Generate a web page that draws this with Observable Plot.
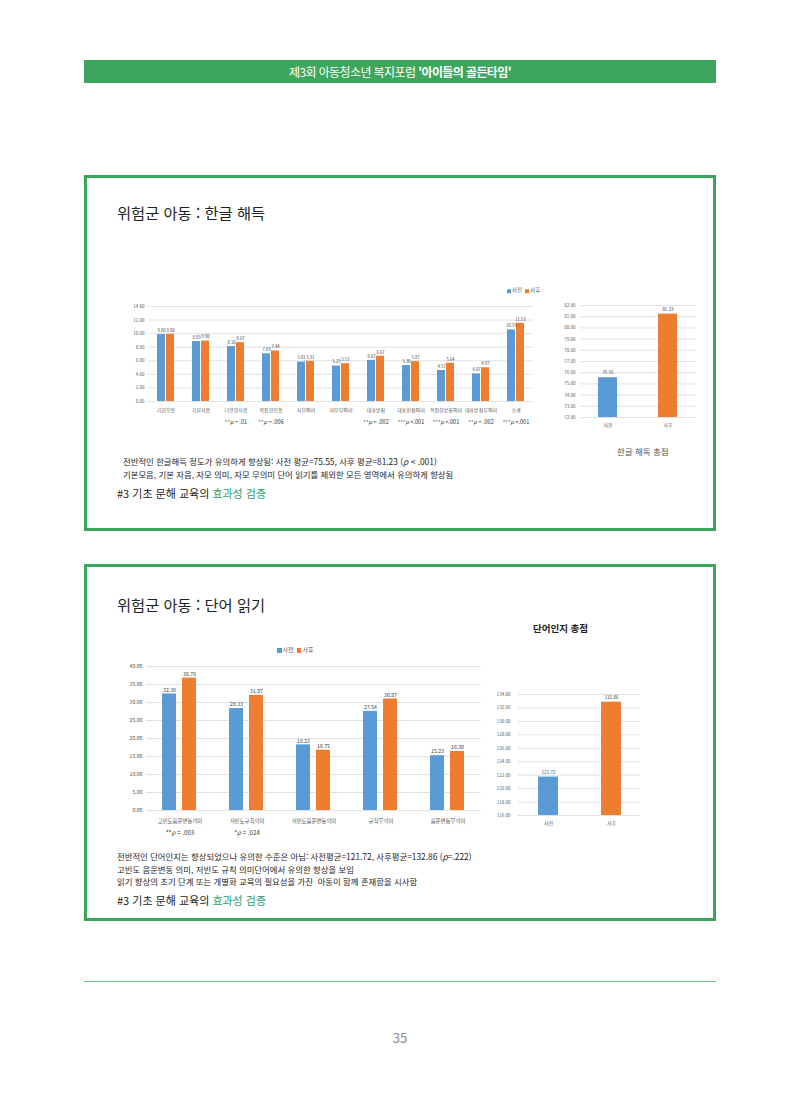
<!DOCTYPE html>
<html lang="ko">
<head>
<meta charset="utf-8">
<script src="https://cdn.jsdelivr.net/npm/d3@7"></script>
<script src="https://cdn.jsdelivr.net/npm/@observablehq/plot@0.6"></script>
<style>
  html, body { margin: 0; padding: 0; background: #fff; }
  body { width: 800px; height: 1095px; position: relative; overflow: hidden;
         font-family: "Noto Sans CJK KR", "Noto Sans", sans-serif; color: #222; }
  .abs { position: absolute; }
  .mid { transform: translateY(-50%); line-height: 1; white-space: nowrap; }
  .header { left: 84px; top: 60px; width: 632px; height: 23px; background: #3da65d; color: #fff;
            font-size: 12px; letter-spacing: -0.6px; text-align: center; line-height: 23px; }
  .box { border: 3px solid #3aa55c; box-sizing: border-box; }
  .title { font-size: 15.3px; color: #222; }
  .body-text { font-size: 8.4px; color: #1e1e1e; }
  .tag { font-size: 11px; color: #222; }
  .tag .g { color: #2e9e68; }
  .legend { font-size: 5.5px; color: #595959; }
  .legend .sw { display: inline-block; width: 4px; height: 4px; margin-right: 1px; vertical-align: middle; }
  .chart { position: absolute; }
</style>
</head>
<body>
<div class="abs header">제3회 아동청소년 복지포럼 <b>'아이들의 골든타임'</b></div>

<div class="abs box" style="left:84px;top:175px;width:632px;height:356px;"></div>
<div class="abs mid title" style="left:117px;top:213px;">위험군 아동 : 한글 해득</div>
<div class="abs mid legend" id="legend1" style="left:507px;top:291px;"></div>
<div class="chart" id="chart1" style="left:112px;top:296px;"></div>
<div class="chart" id="chart2" style="left:548px;top:296px;"></div>
<div class="abs mid" style="left:617px;top:451px;font-size:8.5px;color:#555;">한글 해독 총점</div>
<div class="abs mid body-text" style="left:123px;top:461px;">전반적인 한글해득 정도가 유의하게 향상됨: 사전 평균=75.55, 사후 평균=81.23 (<i>p</i> &lt; .001)</div>
<div class="abs mid body-text" style="left:123px;top:474px;">기본모음, 기본 자음, 자모 의미, 자모 무의미 단어 읽기를 제외한 모든 영역에서 유의하게 향상됨</div>
<div class="abs mid tag" style="left:117px;top:493px;">#3 기초 문해 교육의 <span class="g">효과성 검증</span></div>

<div class="abs box" style="left:84px;top:564px;width:632px;height:357px;"></div>
<div class="abs mid title" style="left:117px;top:605px;">위험군 아동 : 단어 읽기</div>
<div class="abs mid" style="left:533px;top:629px;font-size:9.5px;font-weight:700;color:#222;">단어인지 총점</div>
<div class="abs mid legend" id="legend3" style="left:277px;top:650px;font-size:6px;"></div>
<div class="chart" id="chart3" style="left:112px;top:658px;"></div>
<div class="chart" id="chart4" style="left:490px;top:685px;"></div>
<div class="abs mid body-text" style="left:117px;top:856px;">전반적인 단어인지는 향상되었으나 유의한 수준은 아님: 사전평균=121.72, 사후평균=132.86 (<i>p</i>=.222)</div>
<div class="abs mid body-text" style="left:117px;top:869px;">고빈도 음운변동 의미, 저빈도 규칙 의미단어에서 유의한 향상을 보임</div>
<div class="abs mid body-text" style="left:117px;top:881px;">읽기 향상의 초기 단계 또는 개별화 교육의 필요성을 가진&nbsp; 아동이 함께 존재함을 시사함</div>
<div class="abs mid tag" style="left:117px;top:900px;">#3 기초 문해 교육의 <span class="g">효과성 검증</span></div>

<div class="abs" style="left:84px;top:981px;width:632px;height:1px;background:#6cc48a;"></div>
<div class="abs mid" style="left:0;width:800px;text-align:center;top:1037px;font-size:13px;color:#8a8a8a;">35</div>

<script>
// Series
const series = ["사전", "사후"];
const seriesColors = ["#5b9bd5", "#ed7d31"];

// 한글 해득 영역별 점수
const hangulCats = ["기본모음", "기본자음", "다양한자음", "복잡한모음", "자모의미", "자모무의미",
                    "대표받침", "대표받침의미", "복잡한받침의미", "대표받침무의미", "소계"];
const hangulPre  = [9.86, 8.83, 8.10, 7.03, 5.81, 5.23, 6.07, 5.30, 4.57, 4.07, 10.55];
const hangulPost = [9.90, 8.90, 8.67, 7.44, 5.91, 5.57, 6.67, 5.87, 5.64, 4.97, 11.53];
const hangulPCats  = ["다양한자음", "복잡한모음", "대표받침", "대표받침의미", "복잡한받침의미", "대표받침무의미", "소계"];
const hangulPTexts = ["**p = .01", "**p = .006", "**p = .002", "***p <.001", "***p <.001", "**p = .002", "***p <.001"];

// 한글 해독 총점
const hangulTotal = [75.55, 81.23];

// 단어 읽기 영역별 점수
const wordCats = ["고빈도음운변동의미", "저빈도규칙의미", "저빈도음운변동의미", "규칙무의미", "음운변동무의미"];
const wordPre  = [32.38, 28.33, 18.23, 27.54, 15.23];
const wordPost = [36.78, 31.97, 16.75, 30.97, 16.39];
const wordPCats  = ["고빈도음운변동의미", "저빈도규칙의미"];
const wordPTexts = ["**p = .003", "*p = .024"];

// 단어인지 총점
const wordTotal = [121.72, 132.86];

const FONT = '"Noto Sans CJK KR", "Noto Sans", sans-serif';
const fmt2 = d3.format(".2f");
const GRID = "#d9d9d9";
const TICK = "#595959";

// Set the leading "p" of significance notes in italics
function italicP(svg) {
  d3.select(svg).selectAll("text").each(function () {
    const t = this.textContent;
    const m = t.match(/^(\**)p(\s?[=<].*)$/);
    if (!m) return;
    const el = d3.select(this);
    el.text(null);
    el.append("tspan").text(m[1]);
    el.append("tspan").attr("font-style", "italic").text("p");
    el.append("tspan").text(m[2]);
  });
}

function legend(id, size) {
  const el = document.getElementById(id);
  el.innerHTML = series.map((s, i) =>
    `<span class="sw" style="background:${seriesColors[i]};width:${size}px;height:${size}px"></span>${s}`
  ).join("&nbsp;&nbsp;");
}

function grouped({cats, pre, post, pCats, pTexts, yDomain, yTicks, width, height,
                  marginLeft, marginRight, marginTop, marginBottom,
                  xPadIn, xPadOut, tickFont, catFont, valFont, pFont, pDy, catPad}) {
  const rows = cats.flatMap((c, i) => [
    {cat: c, s: series[0], v: pre[i]},
    {cat: c, s: series[1], v: post[i]}
  ]);
  const notes = pCats.map((c, i) => ({cat: c, t: pTexts[i]}));
  const svg = Plot.plot({
    width, height, marginLeft, marginRight, marginTop, marginBottom,
    style: {fontFamily: FONT, background: "transparent", color: TICK, overflow: "visible"},
    fx: {domain: cats, paddingInner: 0, paddingOuter: 0, label: null, axis: null},
    x: {domain: series, paddingInner: xPadIn, paddingOuter: xPadOut, axis: null},
    y: {domain: yDomain, label: null, axis: null},
    color: {domain: series, range: seriesColors},
    marks: [
      Plot.gridY(yTicks, {stroke: GRID, strokeOpacity: 1, strokeWidth: 0.8}),
      Plot.axisY(yTicks, {tickSize: 0, tickPadding: 4, tickFormat: fmt2, fontSize: tickFont, label: null, fill: TICK}),
      Plot.axisFx({anchor: "bottom", tickSize: 0, tickPadding: catPad, fontSize: catFont, label: null, fill: TICK}),
      Plot.barY(rows, {fx: "cat", x: "s", y1: () => yDomain[0], y2: "v", fill: "s"}),
      Plot.text(rows, {fx: "cat", x: "s", y: "v", text: d => fmt2(d.v), dy: -4,
                       fontSize: valFont, fill: "#404040"}),
      Plot.text(notes, {fx: "cat", text: "t", frameAnchor: "bottom", dy: pDy,
                        fontSize: pFont, fill: "#333"})
    ]
  });
  italicP(svg);
  return svg;
}

function totals({values, yDomain, yTicks, width, height, marginLeft, marginRight, marginTop, marginBottom,
                 padIn, padOut, tickFont, valFont, catFont, tickPad}) {
  const rows = series.map((s, i) => ({s, v: values[i]}));
  return Plot.plot({
    width, height, marginLeft, marginRight, marginTop, marginBottom,
    style: {fontFamily: FONT, background: "transparent", color: TICK, overflow: "visible"},
    x: {domain: series, paddingInner: padIn, paddingOuter: padOut, axis: null},
    y: {domain: yDomain, label: null, axis: null},
    color: {domain: series, range: seriesColors},
    marks: [
      Plot.gridY(yTicks, {stroke: GRID, strokeOpacity: 1, strokeWidth: 0.8}),
      Plot.axisY(yTicks, {tickSize: 0, tickPadding: tickPad, tickFormat: fmt2, fontSize: tickFont, label: null, fill: TICK}),
      Plot.axisX({anchor: "bottom", tickSize: 0, tickPadding: 6, fontSize: catFont, label: null, fill: TICK}),
      Plot.barY(rows, {x: "s", y1: () => yDomain[0], y2: "v", fill: "s"}),
      Plot.text(rows, {x: "s", y: "v", text: d => fmt2(d.v), dy: -5, fontSize: valFont, fill: "#404040"})
    ]
  });
}

legend("legend1", 4);
legend("legend3", 4.5);

document.getElementById("chart1").append(grouped({
  cats: hangulCats, pre: hangulPre, post: hangulPost, pCats: hangulPCats, pTexts: hangulPTexts,
  yDomain: [0, 14], yTicks: d3.range(0, 15, 2),
  width: 430, height: 145, marginLeft: 34, marginRight: 8, marginTop: 10, marginBottom: 40,
  xPadIn: 0.16, xPadOut: 0.95, tickFont: 4.5, catFont: 5, valFont: 4.2, pFont: 5.5, pDy: 22, catPad: 7
}));

document.getElementById("chart2").append(totals({
  values: hangulTotal, yDomain: [72, 82], yTicks: d3.range(72, 83, 1),
  width: 160, height: 141, marginLeft: 32, marginRight: 12, marginTop: 9, marginBottom: 20,
  padIn: 0.68, padOut: 0.3, tickFont: 4.5, valFont: 4.5, catFont: 4.8, tickPad: 5
}));

document.getElementById("chart3").append(grouped({
  cats: wordCats, pre: wordPre, post: wordPost, pCats: wordPCats, pTexts: wordPTexts,
  yDomain: [0, 40], yTicks: d3.range(0, 41, 5),
  width: 375, height: 187, marginLeft: 33, marginRight: 5, marginTop: 8, marginBottom: 35,
  xPadIn: 0.29, xPadOut: 0.75, tickFont: 5.2, catFont: 5.4, valFont: 5.2, pFont: 6.2, pDy: 24, catPad: 9
}));

document.getElementById("chart4").append(totals({
  values: wordTotal, yDomain: [116, 134], yTicks: d3.range(116, 135, 2),
  width: 160, height: 150, marginLeft: 28, marginRight: 10, marginTop: 9, marginBottom: 20,
  padIn: 0.685, padOut: 0.3, tickFont: 4.5, valFont: 4.6, catFont: 5, tickPad: 8
}));
</script>
</body>
</html>
